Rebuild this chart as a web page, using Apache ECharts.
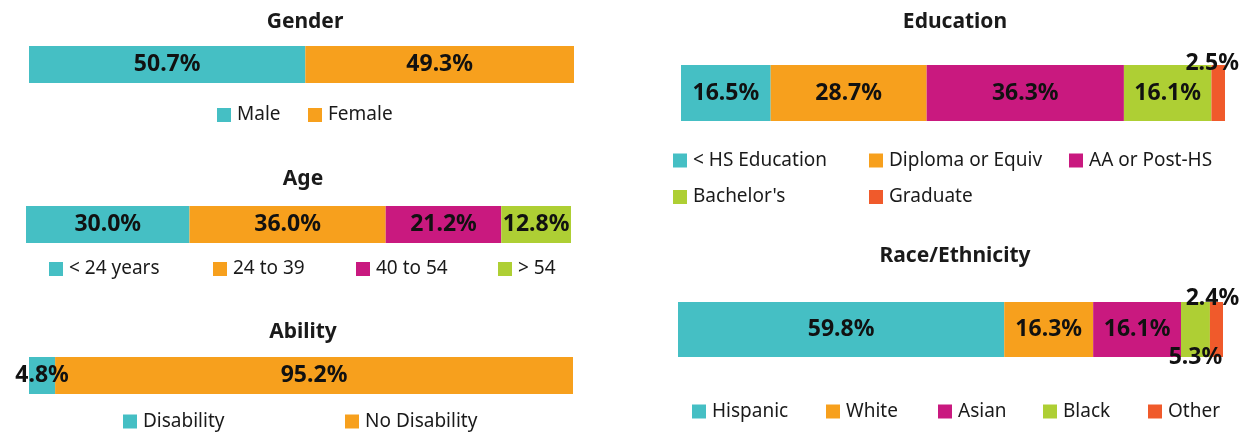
<!DOCTYPE html>
<html lang="en">
<head>
<meta charset="UTF-8">
<title>Demographics</title>
<style>
  html, body { margin: 0; padding: 0; background: #fff; }
  #main { width: 1247px; height: 434px; }
</style>
</head>
<body>
<div id="main"></div>
<script src="https://cdnjs.cloudflare.com/ajax/libs/echarts/6.0.0/echarts.min.js"></script>
<script>
// data
var genderNames = ['Male', 'Female'];
var genderValues = [50.7, 49.3];

var ageNames = ['< 24 years', '24 to 39', '40 to 54', '> 54'];
var ageValues = [30.0, 36.0, 21.2, 12.8];

var abilityNames = ['Disability', 'No Disability'];
var abilityValues = [4.8, 95.2];

var eduNames = ['< HS Education', 'Diploma or Equiv', 'AA or Post-HS', "Bachelor's", 'Graduate'];
var eduValues = [16.5, 28.7, 36.3, 16.1, 2.5];

var raceNames = ['Hispanic', 'White', 'Asian', 'Black', 'Other'];
var raceValues = [59.8, 16.3, 16.1, 5.3, 2.4];

var colors = ['#45BFC4', '#F7A01D', '#C9197F', '#AECF34', '#F05A2B'];
var FONT = 'Noto Sans';

// panel layout: grid box, title centre, legend icon x positions + icon centre y
var panels = [
  { title: 'Gender', names: genderNames, values: genderValues,
    grid: { left: 29, top: 46, width: 545, height: 37 }, tx: 300, ty: 7,
    legend: [[217, 308]], ly: [113.5] },
  { title: 'Age', names: ageNames, values: ageValues,
    grid: { left: 26, top: 206, width: 545, height: 37 }, tx: 298, ty: 164,
    legend: [[49, 213, 356, 498]], ly: [267.5] },
  { title: 'Ability', names: abilityNames, values: abilityValues,
    grid: { left: 29, top: 357, width: 544, height: 37 }, tx: 298, ty: 317,
    legend: [[123, 345]], ly: [420] },
  { title: 'Education', names: eduNames, values: eduValues,
    grid: { left: 681, top: 65, width: 544, height: 56 }, tx: 950, ty: 7,
    legend: [[673, 869, 1069], [673, 869]], ly: [159, 195.5] },
  { title: 'Race/Ethnicity', names: raceNames, values: raceValues,
    grid: { left: 678, top: 302, width: 545, height: 55 }, tx: 950, ty: 241,
    legend: [[692, 826, 938, 1043, 1148]], ly: [410] }
];

// labels of the thin slices sit outside the bar
var labelOffset = {
  'Graduate': [-6, -30],
  'Black': [0, 28],
  'Other': [-4, -31]
};

var option = {
  animation: false,
  title: [], grid: [], xAxis: [], yAxis: [], legend: [], series: []
};

panels.forEach(function (p, gi) {
  option.title.push({
    text: p.title, left: p.tx, top: p.ty, textAlign: 'center',
    textStyle: { fontFamily: FONT, fontSize: 21, fontWeight: 'bold', color: '#1a1a1a' }
  });
  option.grid.push(p.grid);
  option.xAxis.push({ type: 'value', gridIndex: gi, min: 0, max: 'dataMax', show: false });
  option.yAxis.push({ type: 'category', gridIndex: gi, data: [''], show: false });

  p.names.forEach(function (name, i) {
    var off = labelOffset[name] || [0, 0];
    option.series.push({
      name: name, type: 'bar', stack: 'g' + gi,
      xAxisIndex: gi, yAxisIndex: gi,
      barWidth: '100%',
      itemStyle: { color: colors[i] },
      label: {
        show: true, position: 'inside', offset: off,
        fontFamily: FONT, fontSize: 23, fontWeight: 'bold', color: '#111',
        formatter: function (d) { return d.value.toFixed(1) + '%'; }
      },
      data: [p.values[i]]
    });
  });

  // one legend per item so each sits where it does in the picture
  var k = 0;
  p.legend.forEach(function (row, ri) {
    row.forEach(function (x) {
      option.legend.push({
        data: [p.names[k]], left: x, top: p.ly[ri] - 8, padding: 0,
        icon: 'rect', itemWidth: 14, itemHeight: 14, itemGap: 0,
        selectedMode: false,
        textStyle: { fontFamily: FONT, fontSize: 19, color: '#1a1a1a', padding: [0, 0, 0, 1] }
      });
      k++;
    });
  });
});

var myChart = echarts.init(document.getElementById('main'));
myChart.setOption(option);
</script>
</body>
</html>
